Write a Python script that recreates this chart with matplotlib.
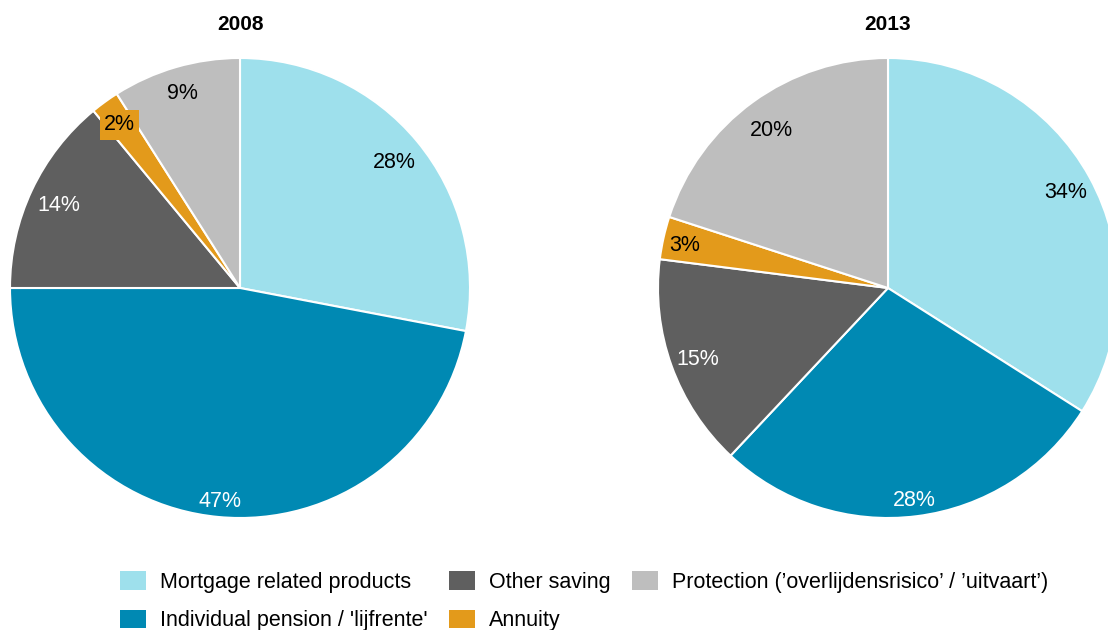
import numpy as np
import matplotlib
matplotlib.use("Agg")
import matplotlib.pyplot as plt
from matplotlib.patches import Patch

plt.rcParams['font.family'] = ['Liberation Sans', 'DejaVu Sans']

categories = ["Mortgage related products", "Individual pension / 'lijfrente'",
              "Other saving", "Annuity",
              "Protection (\u2019overlijdensrisico\u2019 / \u2019uitvaart\u2019)"]
colors = ["#9EE0EC", "#0089B3", "#5F5F5F", "#E39A1B", "#BEBEBE"]
text_colors = ["black", "white", "white", "black", "black"]
years = ["2008", "2013"]
shares_2008 = [28, 47, 14, 2, 9]
shares_2013 = [34, 28, 15, 3, 20]
label_dist_2008 = [0.87, 0.92, 0.87, 0.89, 0.89]
label_dist_2013 = [0.88, 0.92, 0.88, 0.905, 0.86]

W, H = 1108, 630
fig = plt.figure(figsize=(W / 100, H / 100), dpi=100)
ax = fig.add_axes([0, 0, 1, 1])

radius = 230
centers = [(240, H - 288), (888, H - 288)]

for year, shares, dists, (cx, cy) in zip(years, [shares_2008, shares_2013],
                                         [label_dist_2008, label_dist_2013], centers):
    wedges, _ = ax.pie(shares, colors=colors, startangle=90, counterclock=False,
                       center=(cx, cy), radius=radius, frame=True,
                       wedgeprops=dict(edgecolor='white', linewidth=1.5))
    for w, v, d, tc, fc in zip(wedges, shares, dists, text_colors, colors):
        mid = np.deg2rad((w.theta1 + w.theta2) / 2)
        x = cx + d * radius * np.cos(mid)
        y = cy + d * radius * np.sin(mid)
        kw = {}
        if v <= 2:
            kw['bbox'] = dict(boxstyle='square,pad=0.2', facecolor=fc, edgecolor='none')
        ax.text(x, y, f"{v}%", ha='center', va='center_baseline', fontsize=15.5,
                color=tc, **kw)
    ax.text(cx, H - 25, year, ha='center', va='center', fontsize=15, fontweight='bold')

ax.set_xlim(0, W)
ax.set_ylim(0, H)
ax.set_aspect('equal')
ax.axis('off')

handles = [Patch(facecolor=c, edgecolor='none') for c in colors]
fig.legend(handles, categories, ncol=3, loc='upper left',
           bbox_to_anchor=(101 / W, 1 - 552 / H), frameon=False, fontsize=15.5,
           handlelength=1.2, handleheight=0.93, handletextpad=0.65,
           columnspacing=1.0, labelspacing=0.78)

fig.savefig("out.png", dpi=100)
